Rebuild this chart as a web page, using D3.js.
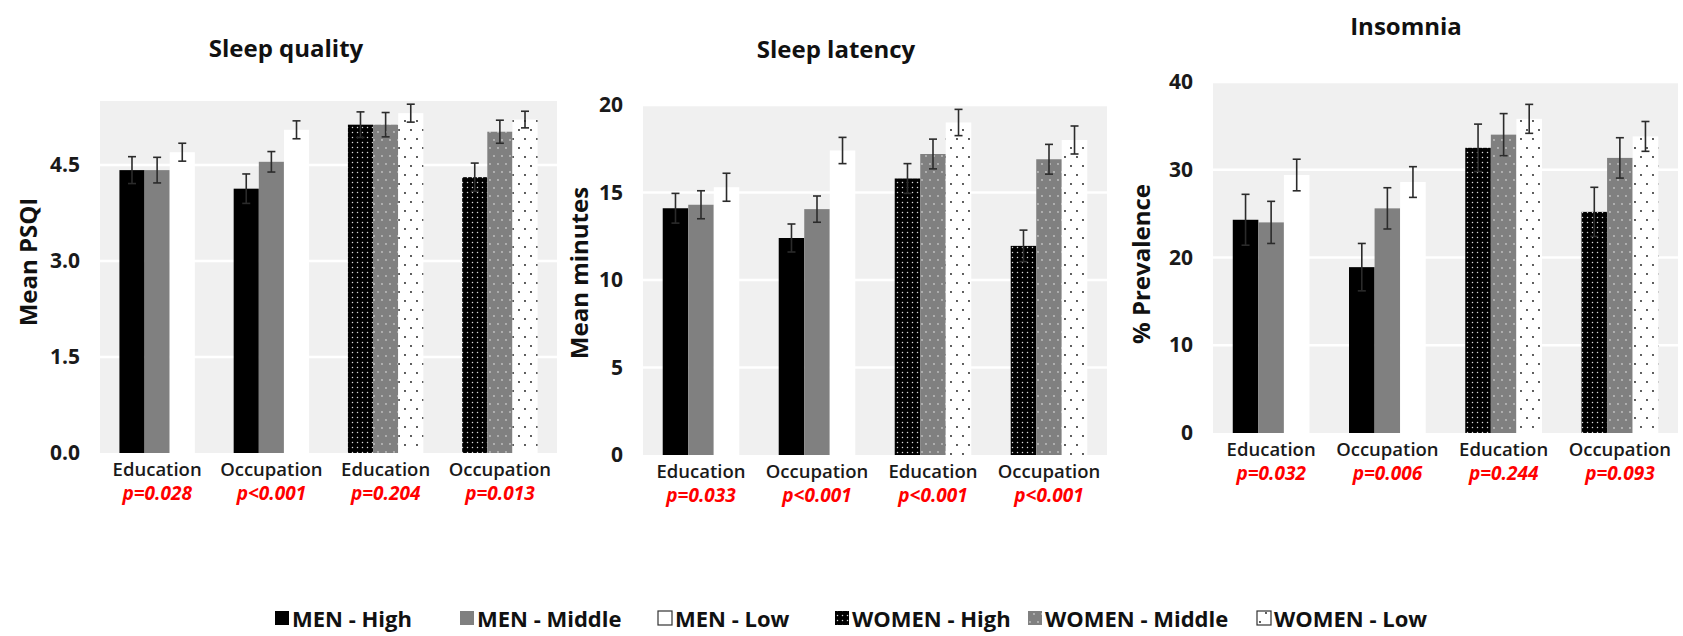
<!DOCTYPE html>
<html>
<head>
<meta charset="utf-8">
<script src="https://cdn.jsdelivr.net/npm/d3@7"></script>
<style>
    body { margin: 0; background: #fff; }
    svg { display: block; font-family: 'Open Sans', sans-serif; }
</style>
</head>
<body>
<svg id="chart" width="1683" height="636"></svg>
<script>
// groups along the x axis of every panel (first two are men, last two women)
const groups = ["Education", "Occupation", "Education", "Occupation"];
const groupSex = ["MEN", "MEN", "WOMEN", "WOMEN"];
const levels = ["High", "Middle", "Low"];

// Sleep quality, mean PSQI
const qualityHigh = [4.42, 4.13, 5.13, 4.31];
const qualityMiddle = [4.42, 4.55, 5.13, 5.02];
const qualityLow = [4.70, 5.05, 5.31, 5.21];
const qualityErrHigh = [0.21, 0.23, 0.20, 0.22];
const qualityErrMiddle = [0.20, 0.16, 0.19, 0.18];
const qualityErrLow = [0.14, 0.14, 0.14, 0.13];
const qualityP = ["p=0.028", "p<0.001", "p=0.204", "p=0.013"];
const qualityTicks = [0, 1.5, 3.0, 4.5];

// Sleep latency, mean minutes
const latencyHigh = [14.1, 12.4, 15.8, 11.95];
const latencyMiddle = [14.3, 14.05, 17.2, 16.9];
const latencyLow = [15.3, 17.4, 19.0, 18.0];
const latencyErrHigh = [0.85, 0.8, 0.85, 0.9];
const latencyErrMiddle = [0.8, 0.75, 0.85, 0.85];
const latencyErrLow = [0.8, 0.75, 0.75, 0.8];
const latencyP = ["p=0.033", "p<0.001", "p<0.001", "p<0.001"];
const latencyTicks = [0, 5, 10, 15, 20];

// Insomnia, % prevalence
const insomniaHigh = [24.3, 18.9, 32.5, 25.2];
const insomniaMiddle = [24.0, 25.6, 34.0, 31.35];
const insomniaLow = [29.4, 28.6, 35.8, 33.8];
const insomniaErrHigh = [2.9, 2.7, 2.7, 2.8];
const insomniaErrMiddle = [2.4, 2.35, 2.4, 2.3];
const insomniaErrLow = [1.8, 1.75, 1.65, 1.7];
const insomniaP = ["p=0.032", "p=0.006", "p=0.244", "p=0.093"];
const insomniaTicks = [0, 10, 20, 30, 40];

const legendLabels = ["MEN - High", "MEN - Middle", "MEN - Low", "WOMEN - High", "WOMEN - Middle", "WOMEN - Low"];

const svg = d3.select("#chart");
const defs = svg.append("defs");

const MEN_FILLS = ["#000000", "#808080", "#ffffff"];
const WOMEN_FILLS = ["url(#dotHigh)", "url(#dotMiddle)", "url(#dotLow)"];

/**
* Dotted fills used for the women bars.
*/
function makePattern(id, bg, dot, w, h, points, r) {
    let p = defs.append("pattern")
        .attr("id", id)
        .attr("patternUnits", "userSpaceOnUse")
        .attr("width", w)
        .attr("height", h);
    p.append("rect").attr("width", w).attr("height", h).attr("fill", bg);
    points.forEach(pt => {
        p.append("circle").attr("cx", pt[0]).attr("cy", pt[1]).attr("r", r).attr("fill", dot);
    });
}
makePattern("dotHigh", "#000", "#d8d8d8", 5, 5, [[2.5, 2.5]], 0.75);
makePattern("dotMiddle", "#808080", "#c4c4c4", 8, 16, [[2, 4], [6, 12]], 0.9);
makePattern("dotLow", "#fff", "#111", 12, 18, [[3, 4], [9, 13]], 0.9);

/**
* Draw one panel of grouped bars with error bars.
*/
function drawPanel(cfg) {
    let g = svg.append("g");

    let x = d3.scaleBand()
        .domain(d3.range(groups.length))
        .range([cfg.left, cfg.right])
        .paddingInner(0.34)
        .paddingOuter(0.17);

    let xLevel = d3.scaleBand()
        .domain(d3.range(levels.length))
        .range([0, x.bandwidth()]);

    let y = d3.scaleLinear()
        .domain(cfg.domain)
        .range([cfg.bottom, cfg.top]);

    // grey plot background
    g.append("rect")
        .attr("x", cfg.left)
        .attr("y", cfg.top)
        .attr("width", cfg.right - cfg.left)
        .attr("height", cfg.bottom - cfg.top)
        .attr("fill", "#f0f0f0");

    // white gridlines
    g.selectAll(".grid")
        .data(cfg.ticks.filter(t => t > 0))
        .enter()
        .append("line")
        .attr("x1", cfg.left)
        .attr("x2", cfg.right)
        .attr("y1", d => y(d))
        .attr("y2", d => y(d))
        .attr("stroke", "#fff")
        .attr("stroke-width", 2.5);

    // y axis with labels only
    let axis = g.append("g")
        .attr("transform", "translate(" + cfg.left + ",0)")
        .call(d3.axisLeft(y).tickValues(cfg.ticks).tickFormat(cfg.format).tickSize(0).tickPadding(20));
    axis.select(".domain").remove();
    axis.selectAll("text")
        .attr("fill", "#1a1a1a")
        .style("font-size", "21px")
        .style("font-weight", "700")
        .style("font-family", "'Open Sans', sans-serif");

    // bars
    let rows = [];
    groups.forEach((name, gi) => {
        levels.forEach((lvl, li) => {
            rows.push({
                gi: gi,
                li: li,
                value: cfg.values[li][gi],
                err: cfg.errors[li][gi],
                fill: groupSex[gi] == "MEN" ? MEN_FILLS[li] : WOMEN_FILLS[li]
            });
        });
    });

    g.selectAll(".bar")
        .data(rows)
        .enter()
        .append("rect")
        .attr("x", d => x(d.gi) + xLevel(d.li))
        .attr("y", d => y(d.value))
        .attr("width", xLevel.bandwidth())
        .attr("height", d => y(0) - y(d.value))
        .attr("fill", d => d.fill);

    // error bars
    let eb = g.selectAll(".err")
        .data(rows)
        .enter()
        .append("g")
        .attr("stroke", "#2b2b2b")
        .attr("stroke-width", 1.6);
    let cx = d => x(d.gi) + xLevel(d.li) + xLevel.bandwidth() / 2;
    eb.append("line")
        .attr("x1", cx).attr("x2", cx)
        .attr("y1", d => y(d.value - d.err))
        .attr("y2", d => y(d.value + d.err));
    eb.append("line")
        .attr("x1", d => cx(d) - 4).attr("x2", d => cx(d) + 4)
        .attr("y1", d => y(d.value + d.err))
        .attr("y2", d => y(d.value + d.err));
    eb.append("line")
        .attr("x1", d => cx(d) - 4).attr("x2", d => cx(d) + 4)
        .attr("y1", d => y(d.value - d.err))
        .attr("y2", d => y(d.value - d.err));

    // category labels and p-values
    g.selectAll(".cat")
        .data(groups)
        .enter()
        .append("text")
        .attr("x", (d, i) => x(i) + x.bandwidth() / 2)
        .attr("y", cfg.bottom + 23)
        .attr("text-anchor", "middle")
        .attr("fill", "#1a1a1a")
        .style("font-size", "18.5px")
        .style("font-weight", "600")
        .text(d => d);

    g.selectAll(".pval")
        .data(cfg.pvalues)
        .enter()
        .append("text")
        .attr("x", (d, i) => x(i) + x.bandwidth() / 2)
        .attr("y", cfg.bottom + 47)
        .attr("text-anchor", "middle")
        .attr("fill", "#ff0000")
        .style("font-size", "19px")
        .style("font-weight", "700")
        .style("font-style", "italic")
        .text(d => d);

    // title
    g.append("text")
        .attr("x", cfg.titleX)
        .attr("y", cfg.titleY)
        .attr("text-anchor", "middle")
        .attr("fill", "#111")
        .style("font-size", "24px")
        .style("font-weight", "700")
        .text(cfg.title);

    // rotated y axis title
    g.append("text")
        .attr("transform", "translate(" + cfg.yTitleX + "," + cfg.yTitleY + ") rotate(-90)")
        .attr("text-anchor", "middle")
        .attr("dominant-baseline", "central")
        .attr("fill", "#111")
        .style("font-size", "24px")
        .style("font-weight", "700")
        .text(cfg.yTitle);
}

drawPanel({
    title: "Sleep quality", titleX: 286, titleY: 57,
    yTitle: "Mean PSQI", yTitleX: 27, yTitleY: 262,
    left: 100, right: 557, top: 101, bottom: 453,
    domain: [0, 5.5], ticks: qualityTicks, format: d3.format(".1f"),
    values: [qualityHigh, qualityMiddle, qualityLow],
    errors: [qualityErrHigh, qualityErrMiddle, qualityErrLow],
    pvalues: qualityP
});

drawPanel({
    title: "Sleep latency", titleX: 836, titleY: 58,
    yTitle: "Mean minutes", yTitleX: 578, yTitleY: 273,
    left: 643, right: 1107, top: 105, bottom: 455,
    domain: [0, 20], ticks: latencyTicks, format: d3.format("d"),
    values: [latencyHigh, latencyMiddle, latencyLow],
    errors: [latencyErrHigh, latencyErrMiddle, latencyErrLow],
    pvalues: latencyP
});

drawPanel({
    title: "Insomnia", titleX: 1406, titleY: 35,
    yTitle: "% Prevalence", yTitleX: 1140, yTitleY: 264,
    left: 1213, right: 1678, top: 82, bottom: 433,
    domain: [0, 40], ticks: insomniaTicks, format: d3.format("d"),
    values: [insomniaHigh, insomniaMiddle, insomniaLow],
    errors: [insomniaErrHigh, insomniaErrMiddle, insomniaErrLow],
    pvalues: insomniaP
});

// legend along the bottom
const legendX = [275, 460, 658, 835, 1028, 1257];
const legendFills = MEN_FILLS.concat(WOMEN_FILLS);
let legend = svg.append("g");
let item = legend.selectAll(".item")
    .data(legendLabels)
    .enter()
    .append("g")
    .attr("transform", (d, i) => "translate(" + legendX[i] + ",618)");
item.append("rect")
    .attr("x", 0)
    .attr("y", -7)
    .attr("width", 14)
    .attr("height", 14)
    .attr("fill", (d, i) => legendFills[i])
    .attr("stroke", (d, i) => (i == 2 || i == 5) ? "#333" : "none")
    .attr("stroke-width", 1.2);
item.append("text")
    .attr("x", 17)
    .attr("y", 0)
    .attr("dominant-baseline", "central")
    .attr("fill", "#111")
    .style("font-size", "22px")
    .style("font-weight", "700")
    .text(d => d);
</script>
</body>
</html>
